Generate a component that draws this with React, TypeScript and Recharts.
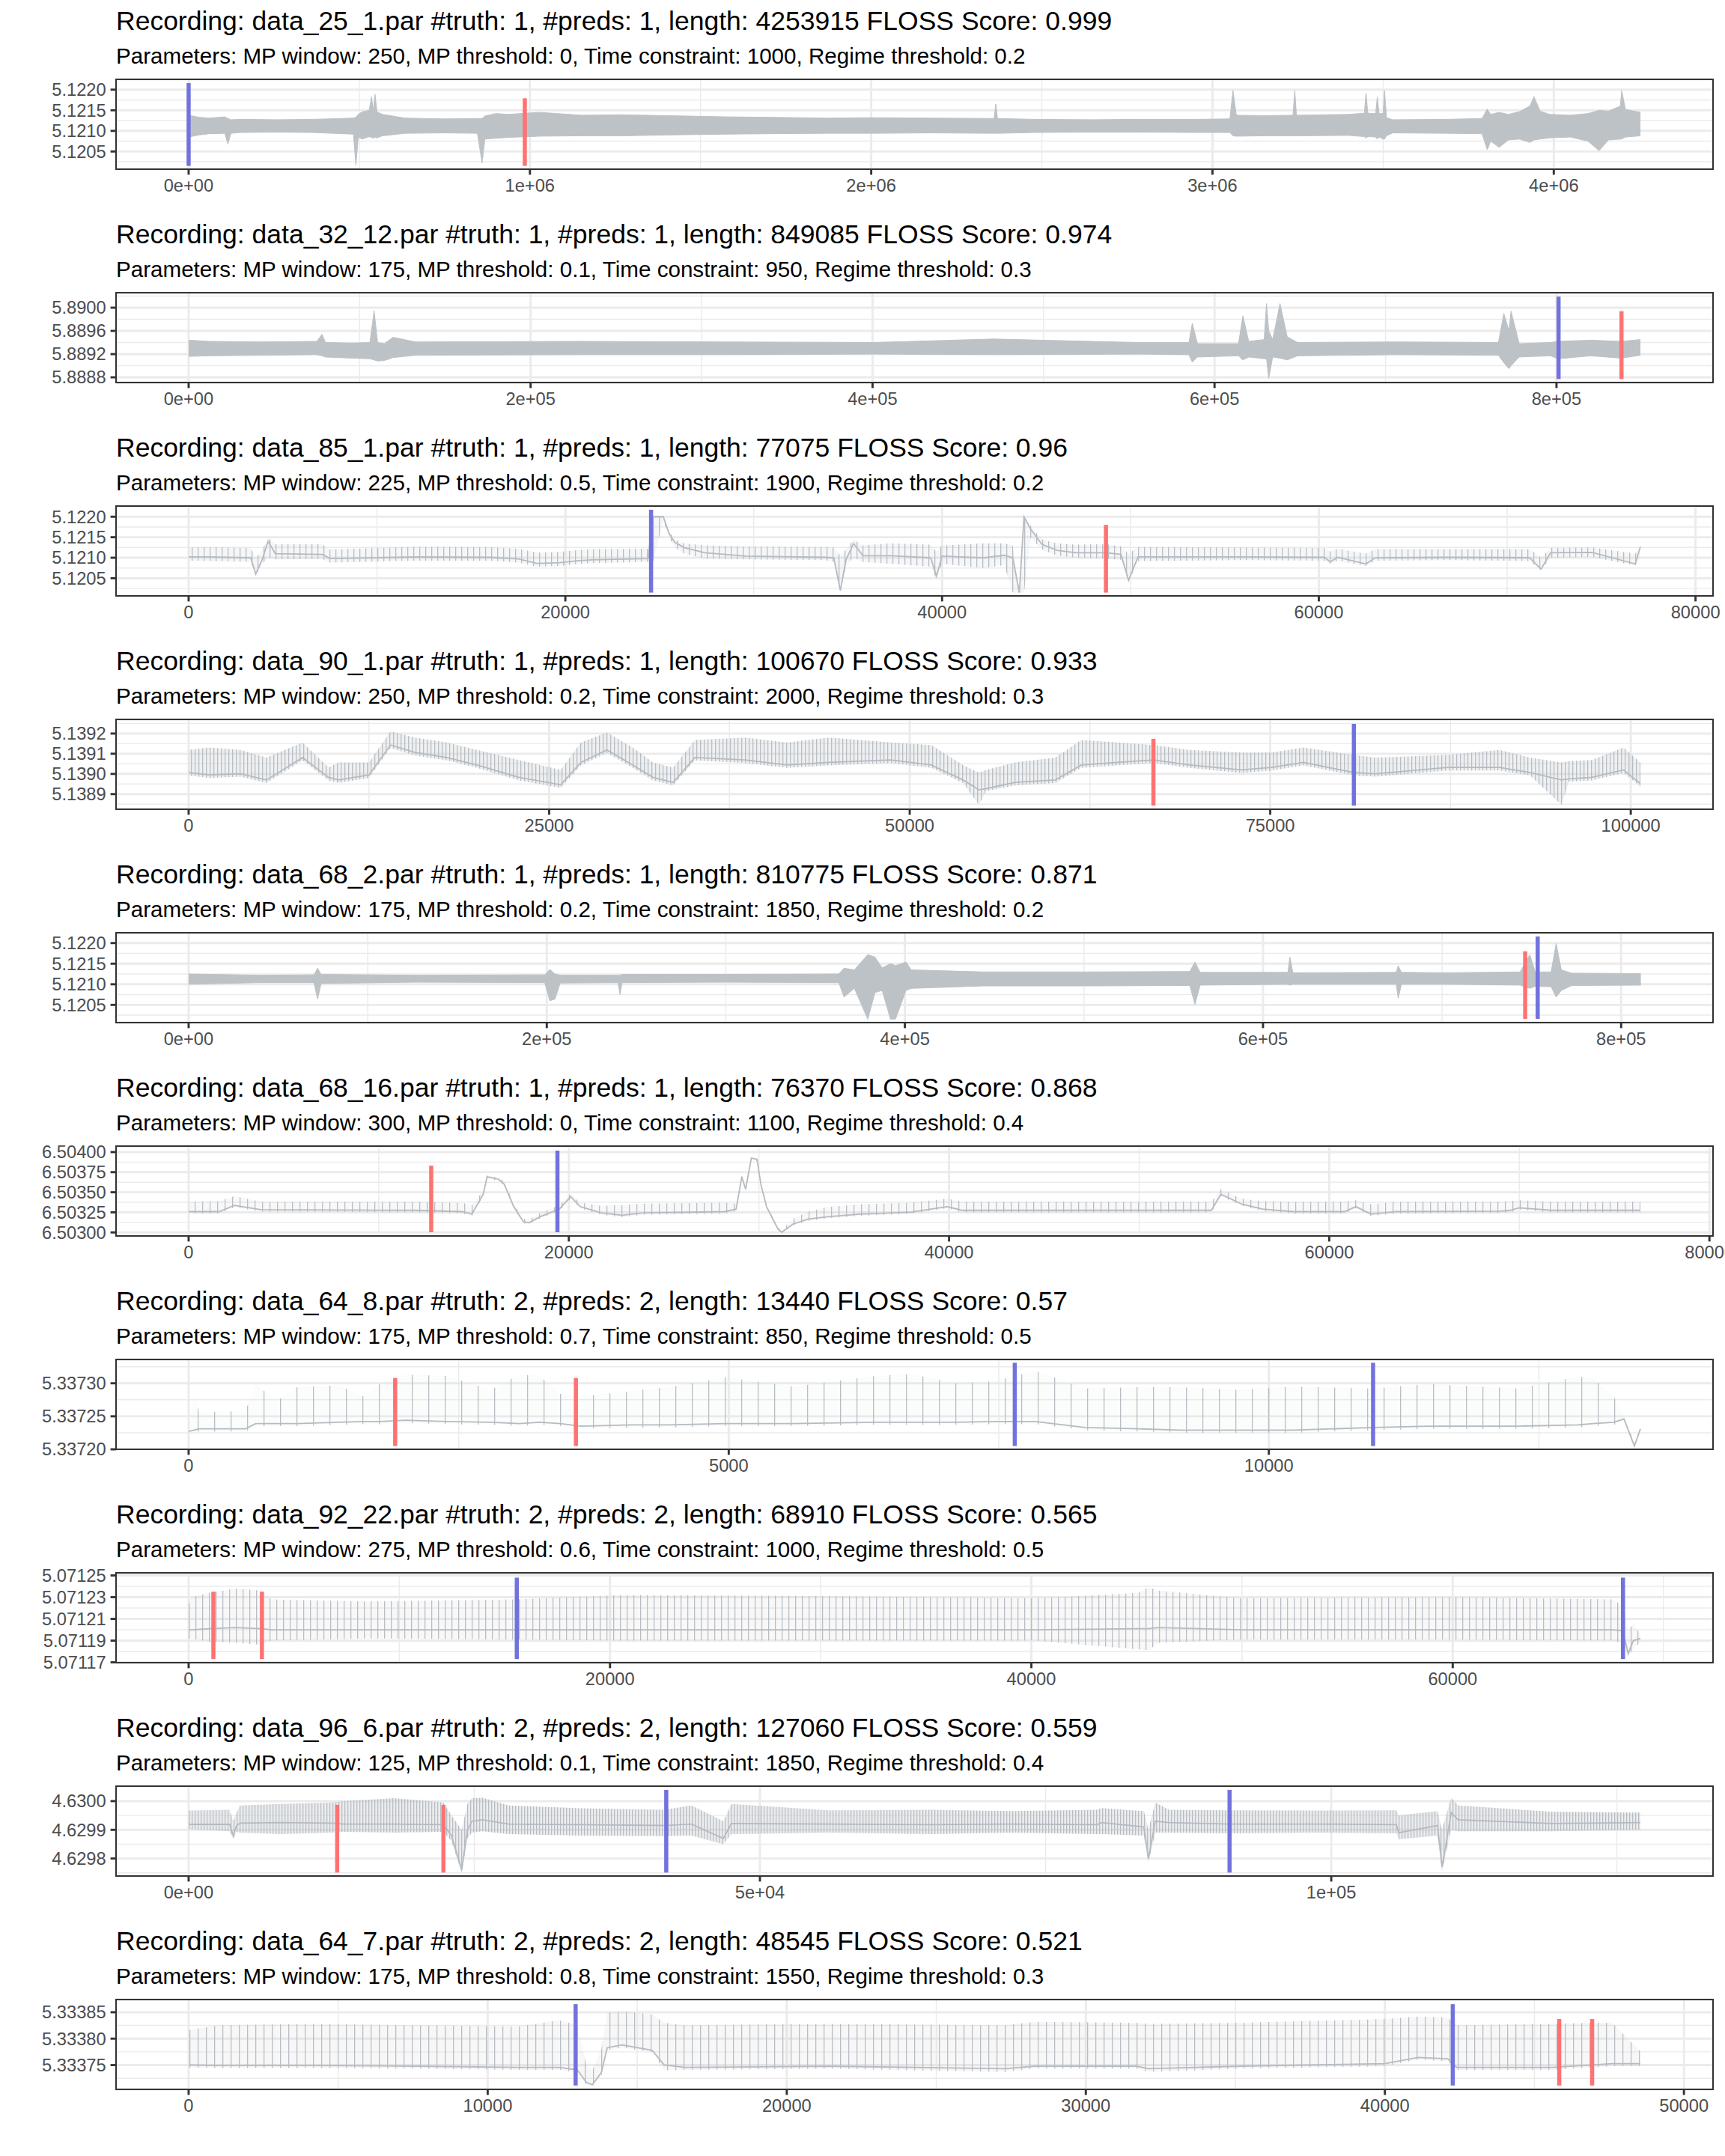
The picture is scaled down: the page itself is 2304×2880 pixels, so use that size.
import React from "react";
import {
  ComposedChart,
  Area,
  Line,
  XAxis,
  YAxis,
  CartesianGrid,
  ReferenceLine,
} from "recharts";

// rows are [x, low, high] for dense recordings and [x, low, base, high] for comb-like ones
type Row = number[];
type Mark = [number, number, number]; // x, y from, y to

// ---------- data_25_1 ----------
const rec25_1: Row[] = [
  [0, 5.12085, 5.12138], [30000, 5.1209, 5.12133], [60000, 5.12093, 5.12131],
  [106000, 5.12094, 5.12134], [115000, 5.12068, 5.1213], [124000, 5.12094, 5.12127],
  [151000, 5.12096, 5.12128], [260000, 5.12097, 5.12127], [363000, 5.12096, 5.12128],
  [483000, 5.12092, 5.12131], [490000, 5.12016, 5.12133], [497000, 5.12085, 5.1214],
  [508000, 5.1208, 5.12146], [529000, 5.12086, 5.1215], [536000, 5.12084, 5.12183],
  [541000, 5.12082, 5.12148], [546000, 5.12085, 5.12189], [552000, 5.12083, 5.12146],
  [568000, 5.12088, 5.1214], [634000, 5.12094, 5.12131], [750000, 5.12095, 5.12129],
  [846000, 5.12094, 5.1213], [860000, 5.12022, 5.1213], [868000, 5.1208, 5.12136],
  [900000, 5.12082, 5.12142], [937000, 5.12084, 5.1214], [1027000, 5.12087, 5.12145],
  [1150000, 5.12088, 5.12138], [1269000, 5.12088, 5.12139], [1400000, 5.1209, 5.12137],
  [1571000, 5.12092, 5.12134], [1700000, 5.12093, 5.12133], [1873000, 5.12094, 5.12131],
  [2000000, 5.12094, 5.12132], [2175000, 5.12095, 5.12131], [2360000, 5.12094, 5.1213],
  [2365000, 5.12094, 5.12165], [2370000, 5.12094, 5.1213], [2477000, 5.12096, 5.12128],
  [2650000, 5.12097, 5.12127], [2779000, 5.12097, 5.12128], [2950000, 5.12096, 5.12128],
  [3051000, 5.12096, 5.12129], [3060000, 5.12088, 5.12198], [3070000, 5.12087, 5.12138],
  [3150000, 5.12088, 5.12137], [3236000, 5.12088, 5.12138], [3241000, 5.12088, 5.12198],
  [3246000, 5.12088, 5.12138], [3400000, 5.12089, 5.1214], [3445000, 5.12086, 5.12143],
  [3450000, 5.12082, 5.12192], [3455000, 5.12086, 5.12143], [3478000, 5.12085, 5.12142],
  [3483000, 5.1208, 5.12183], [3488000, 5.12085, 5.12142], [3500000, 5.1208, 5.12142],
  [3504000, 5.1208, 5.12198], [3510000, 5.12088, 5.12132], [3528000, 5.12095, 5.12127],
  [3686000, 5.12094, 5.12128], [3790000, 5.12093, 5.1213], [3805000, 5.12054, 5.12153],
  [3815000, 5.12075, 5.1214], [3840000, 5.1206, 5.12145], [3867000, 5.12078, 5.1214],
  [3900000, 5.1208, 5.12147], [3930000, 5.12072, 5.1216], [3942000, 5.12078, 5.12183],
  [3960000, 5.1208, 5.12148], [3988000, 5.12083, 5.1214], [4048000, 5.12085, 5.12138],
  [4100000, 5.12075, 5.12142], [4133000, 5.12052, 5.1215], [4160000, 5.12078, 5.12148],
  [4195000, 5.1208, 5.1216], [4199000, 5.1208, 5.12198], [4210000, 5.12085, 5.12152],
  [4254000, 5.12088, 5.12145],
];
const truth25_1: Mark[] = [[0, 5.12015, 5.12216]];
const preds25_1: Mark[] = [[985000, 5.12015, 5.12179]];

// ---------- data_32_12 ----------
const rec32_12: Row[] = [
  [0, 5.88916, 5.88944], [12000, 5.88917, 5.88942], [42000, 5.88918, 5.88941],
  [75000, 5.88919, 5.88942], [78000, 5.88917, 5.88954], [80000, 5.88915, 5.8894],
  [96000, 5.88913, 5.88939], [106000, 5.88912, 5.8894], [108500, 5.8891, 5.88995],
  [110500, 5.88908, 5.8894], [114500, 5.88909, 5.88938], [119500, 5.88914, 5.88949],
  [132700, 5.88918, 5.88941], [229000, 5.88919, 5.88942], [313700, 5.88919, 5.88941],
  [400000, 5.8892, 5.8894], [470600, 5.88919, 5.88946], [555000, 5.8892, 5.8894],
  [585000, 5.88919, 5.8894], [587000, 5.88906, 5.88973], [590000, 5.88915, 5.88938],
  [614000, 5.88917, 5.88938], [616600, 5.8891, 5.88986], [620000, 5.88915, 5.88942],
  [629000, 5.88912, 5.88945], [630400, 5.88912, 5.89007], [631700, 5.88878, 5.8896],
  [634000, 5.88915, 5.88945], [638300, 5.88913, 5.89007], [642500, 5.8891, 5.8895],
  [648500, 5.88917, 5.8894], [705900, 5.88919, 5.88941], [766000, 5.88918, 5.8894],
  [769200, 5.88905, 5.8899], [772200, 5.88895, 5.8896], [773400, 5.889, 5.88994],
  [778200, 5.88915, 5.88938], [796400, 5.88917, 5.8894], [801200, 5.88912, 5.88942],
  [820000, 5.88917, 5.88944], [838000, 5.88913, 5.88942], [849085, 5.88918, 5.88945],
];
const truth32_12: Mark[] = [[801200, 5.88877, 5.89019]];
const preds32_12: Mark[] = [[838000, 5.88877, 5.88994]];

// ---------- data_85_1 ----------
const rec85_1: Row[] = [
  [0, 5.12093, 5.12102, 5.12125], [1100, 5.12092, 5.12102, 5.12126], [3300, 5.1209, 5.121, 5.12124],
  [3560, 5.12057, 5.1206, 5.121], [3900, 5.12085, 5.12095, 5.12118], [4220, 5.121, 5.1214, 5.12149],
  [4600, 5.12096, 5.1211, 5.12133], [7100, 5.12097, 5.12108, 5.12133], [7500, 5.12088, 5.12098, 5.1212],
  [12000, 5.12093, 5.12102, 5.12127], [16000, 5.12093, 5.12101, 5.12126], [17500, 5.12088, 5.12097, 5.12122],
  [18500, 5.12078, 5.12086, 5.12113], [19700, 5.1208, 5.12088, 5.12114], [20500, 5.12084, 5.12092, 5.12118],
  [21400, 5.12087, 5.12095, 5.12121], [24400, 5.1209, 5.12098, 5.12122], [24650, 5.1209, 5.122, 5.122],
  [25200, 5.1219, 5.122, 5.122], [25500, 5.1215, 5.1216, 5.12165], [25800, 5.12125, 5.12138, 5.12145],
  [26300, 5.1211, 5.12125, 5.12135], [27400, 5.12098, 5.12112, 5.1213], [29600, 5.12096, 5.12104, 5.12128],
  [33800, 5.12094, 5.12101, 5.12126], [34250, 5.1209, 5.121, 5.12125], [34600, 5.12015, 5.1202, 5.12105],
  [34900, 5.1208, 5.12095, 5.1212], [35300, 5.121, 5.12135, 5.12145], [35800, 5.1209, 5.12105, 5.1213],
  [37300, 5.12085, 5.12105, 5.12135], [39400, 5.12078, 5.121, 5.12132], [39700, 5.12048, 5.12055, 5.12115],
  [40000, 5.12085, 5.12104, 5.1213], [42200, 5.12075, 5.121, 5.12135], [43300, 5.12082, 5.12106, 5.12135],
  [43750, 5.12015, 5.121, 5.1213], [44100, 5.12015, 5.12015, 5.1202], [44350, 5.12015, 5.122, 5.122],
  [44700, 5.1215, 5.1217, 5.12178], [45300, 5.1212, 5.12133, 5.12145], [46100, 5.12105, 5.12118, 5.12135],
  [47100, 5.121, 5.12112, 5.12132], [48700, 5.12098, 5.12112, 5.12133], [49500, 5.12095, 5.12108, 5.12128],
  [49900, 5.12041, 5.12045, 5.1211], [50400, 5.12092, 5.12102, 5.12126], [55900, 5.12094, 5.12102, 5.12125],
  [60300, 5.12093, 5.12101, 5.12124], [60600, 5.12085, 5.1209, 5.12115], [61000, 5.12093, 5.12101, 5.12122],
  [62500, 5.1208, 5.12085, 5.1211], [63000, 5.12093, 5.121, 5.12121], [66900, 5.12094, 5.12101, 5.12121],
  [71200, 5.12092, 5.121, 5.12121], [71800, 5.12069, 5.12072, 5.121], [72300, 5.121, 5.12112, 5.12124],
  [74500, 5.12102, 5.12113, 5.12125], [76800, 5.12081, 5.12085, 5.1211], [77075, 5.121, 5.12127, 5.12127],
];
const truth85_1: Mark[] = [[24550, 5.12015, 5.12217]];
const preds85_1: Mark[] = [[48700, 5.12015, 5.1218]];

// ---------- data_90_1 ----------
const rec90_1: Row[] = [
  [0, 5.138993, 5.139007, 5.139119], [1400, 5.13898, 5.138995, 5.139131], [3600, 5.138986, 5.139001, 5.139119],
  [5400, 5.138955, 5.13897, 5.139081], [7900, 5.139067, 5.139081, 5.139156], [9700, 5.138968, 5.138983, 5.139032],
  [10400, 5.138955, 5.13897, 5.139057], [12500, 5.13898, 5.138995, 5.139057], [14000, 5.139128, 5.139143, 5.139211],
  [15700, 5.139091, 5.139106, 5.13918], [17900, 5.139067, 5.139081, 5.139156], [20000, 5.13903, 5.139044, 5.139119],
  [22900, 5.138968, 5.138983, 5.139069], [25800, 5.138931, 5.138946, 5.13902], [27200, 5.139042, 5.139057, 5.139156],
  [29000, 5.139104, 5.139119, 5.139205], [30800, 5.13903, 5.139044, 5.139131], [32200, 5.138968, 5.138983, 5.139057],
  [33600, 5.138943, 5.138958, 5.139032], [35100, 5.139067, 5.139081, 5.139168], [38600, 5.139054, 5.139069, 5.13918],
  [41500, 5.13903, 5.139044, 5.139156], [44400, 5.139042, 5.139057, 5.13918], [48700, 5.139054, 5.139069, 5.139156],
  [51500, 5.13903, 5.139044, 5.139143], [53700, 5.138955, 5.13897, 5.139044], [54800, 5.138847, 5.138921, 5.139007],
  [55300, 5.138914, 5.138927, 5.13902], [57300, 5.138943, 5.138958, 5.139057], [60100, 5.138955, 5.13897, 5.139081],
  [61900, 5.13903, 5.139044, 5.139168], [64400, 5.139042, 5.139057, 5.139156], [66900, 5.139054, 5.139069, 5.139143],
  [69400, 5.13903, 5.139044, 5.139119], [73000, 5.139005, 5.13902, 5.139106], [75100, 5.139017, 5.139032, 5.139106],
  [77300, 5.139042, 5.139057, 5.139131], [80800, 5.138993, 5.139007, 5.139094], [82300, 5.138986, 5.139001, 5.139081],
  [87300, 5.139017, 5.139032, 5.139094], [90900, 5.139017, 5.139032, 5.139119], [93000, 5.138993, 5.139007, 5.139081],
  [95200, 5.138847, 5.13897, 5.139057], [95700, 5.138961, 5.138976, 5.139063], [97300, 5.138968, 5.138983, 5.139069],
  [99500, 5.139005, 5.13902, 5.139131], [100670, 5.138937, 5.138952, 5.139057],
];
const truth90_1: Mark[] = [[80800, 5.138843, 5.139248]];
const preds90_1: Mark[] = [[66900, 5.138843, 5.139174]];

// ---------- data_68_2 ----------
const rec68_2: Row[] = [
  [0, 5.121, 5.12125], [40000, 5.12104, 5.12122], [70000, 5.12104, 5.12123],
  [72000, 5.12064, 5.12139], [74000, 5.12102, 5.12124], [126800, 5.12105, 5.12122],
  [198900, 5.12104, 5.12123], [201700, 5.1206, 5.12136], [204600, 5.12064, 5.12125],
  [207500, 5.12103, 5.12122], [239800, 5.12104, 5.12122], [240900, 5.12075, 5.12122],
  [242100, 5.12104, 5.12124], [299700, 5.12105, 5.12124], [363100, 5.12104, 5.12125],
  [366000, 5.12069, 5.12139], [371800, 5.1209, 5.12135], [379300, 5.12015, 5.12172],
  [383300, 5.1208, 5.12166], [387300, 5.12085, 5.1214], [392000, 5.12015, 5.1215],
  [394800, 5.12016, 5.12145], [400600, 5.12085, 5.12154], [403500, 5.1209, 5.12135],
  [443800, 5.12096, 5.1213], [501500, 5.12096, 5.1213], [559100, 5.12097, 5.12131],
  [562000, 5.12051, 5.12154], [564900, 5.12098, 5.12129], [613900, 5.121, 5.12129],
  [615000, 5.12098, 5.12166], [616700, 5.121, 5.12128], [674400, 5.121, 5.12129],
  [675500, 5.12066, 5.12145], [677300, 5.121, 5.12129], [703200, 5.121, 5.12128],
  [743600, 5.12098, 5.1213], [749000, 5.1209, 5.12172], [752000, 5.12095, 5.1213],
  [760900, 5.12094, 5.1213], [763700, 5.12069, 5.12199], [766600, 5.12085, 5.12135],
  [772400, 5.12097, 5.12127], [811000, 5.12098, 5.12126],
];
const truth68_2: Mark[] = [[753400, 5.12016, 5.12216]];
const preds68_2: Mark[] = [[746400, 5.12016, 5.1218]];

// ---------- data_68_16 ----------
const rec68_16: Row[] = [
  [0, 6.503234, 6.503259, 6.503383], [1600, 6.503234, 6.503259, 6.50339], [2400, 6.503312, 6.503337, 6.503451],
  [3800, 6.503259, 6.503284, 6.503383], [11900, 6.50325, 6.503275, 6.503383], [14400, 6.503234, 6.503259, 6.503368],
  [14900, 6.503203, 6.503228, 6.503337], [15500, 6.50345, 6.503476, 6.50352], [15700, 6.50367, 6.503693, 6.50371],
  [16300, 6.50364, 6.503662, 6.50368], [16600, 6.50358, 6.5036, 6.50364], [17100, 6.5033, 6.503321, 6.50336],
  [17600, 6.503115, 6.503135, 6.50317], [17900, 6.5031, 6.50312, 6.50316], [18500, 6.503175, 6.503197, 6.50324],
  [19500, 6.503265, 6.50329, 6.50334], [20100, 6.50342, 6.503445, 6.50348], [20600, 6.5033, 6.503321, 6.50337],
  [21700, 6.50322, 6.503244, 6.50333], [22800, 6.50319, 6.503213, 6.50334], [23900, 6.50322, 6.503244, 6.50336],
  [28200, 6.503234, 6.503259, 6.50337], [28800, 6.503265, 6.50329, 6.50336], [29100, 6.50367, 6.503693, 6.50371],
  [29300, 6.503515, 6.503538, 6.50356], [29600, 6.5039, 6.503925, 6.50393], [29900, 6.503885, 6.503909, 6.50392],
  [30100, 6.50358, 6.5036, 6.50362], [30400, 6.5033, 6.503321, 6.50334], [31000, 6.50302, 6.503043, 6.50306],
  [31200, 6.503002, 6.503002, 6.50303], [31800, 6.503085, 6.503105, 6.50317], [32600, 6.503145, 6.503166, 6.50326],
  [33700, 6.503175, 6.503197, 6.50332], [35300, 6.503205, 6.503228, 6.50335], [38000, 6.50323, 6.503253, 6.50337],
  [39900, 6.5033, 6.503321, 6.50342], [40700, 6.50325, 6.503275, 6.503383], [53800, 6.50325, 6.503275, 6.503383],
  [54300, 6.50345, 6.503476, 6.50354], [55400, 6.50333, 6.503352, 6.50342], [56500, 6.503265, 6.50329, 6.50339],
  [58100, 6.503234, 6.503259, 6.503383], [60800, 6.503234, 6.503259, 6.503383], [61400, 6.5033, 6.503321, 6.5034],
  [62200, 6.503203, 6.503228, 6.50335], [63500, 6.503234, 6.503259, 6.503383], [69000, 6.50324, 6.503265, 6.503383],
  [69500, 6.50325, 6.503275, 6.50339], [70000, 6.503282, 6.503306, 6.5034], [71700, 6.50325, 6.503275, 6.503383],
  [76370, 6.50325, 6.503275, 6.503383],
];
const truth68_16: Mark[] = [[19400, 6.503002, 6.504018]];
const preds68_16: Mark[] = [[12760, 6.503002, 6.503832]];

// ---------- data_64_8 ----------
const rec64_8: Row[] = [
  [0, 5.337223, 5.337227, 5.337231], [48, 5.337225, 5.337229, 5.337284], [96, 5.337227, 5.337231, 5.337256],
  [526, 5.337227, 5.337231, 5.337258], [621, 5.337235, 5.337239, 5.337299], [813, 5.337235, 5.337239, 5.337273],
  [1004, 5.337235, 5.337239, 5.337294], [1386, 5.337237, 5.337241, 5.337297], [1625, 5.337238, 5.337242, 5.33728],
  [1769, 5.337238, 5.337242, 5.337299], [2008, 5.33724, 5.337244, 5.337313], [2390, 5.337238, 5.337242, 5.337311],
  [2800, 5.337237, 5.337241, 5.33729], [3059, 5.337235, 5.337239, 5.337313], [3250, 5.337237, 5.337241, 5.337311],
  [3442, 5.337235, 5.337239, 5.337284], [3633, 5.337231, 5.337235, 5.33728], [4100, 5.337233, 5.337237, 5.337288],
  [4445, 5.337233, 5.337237, 5.337294], [4971, 5.337235, 5.337239, 5.337309], [5600, 5.337235, 5.337239, 5.337295],
  [6357, 5.337237, 5.337241, 5.337311], [6692, 5.337237, 5.337241, 5.337314], [7100, 5.337237, 5.337241, 5.3373],
  [7457, 5.337238, 5.337242, 5.337303], [7839, 5.337238, 5.337242, 5.337319], [8300, 5.337229, 5.337233, 5.337292],
  [8795, 5.337227, 5.337231, 5.337294], [9178, 5.337225, 5.337229, 5.337294], [9700, 5.337225, 5.337229, 5.33729],
  [10229, 5.337225, 5.337229, 5.337295], [10965, 5.337229, 5.337233, 5.337292], [11472, 5.337231, 5.337235, 5.337299],
  [12300, 5.337231, 5.337235, 5.337292], [12858, 5.337233, 5.337237, 5.33731], [13002, 5.337235, 5.337239, 5.337308],
  [13193, 5.337237, 5.337241, 5.33728], [13288, 5.337242, 5.337246, 5.33725], [13384, 5.337205, 5.337205, 5.33721],
  [13440, 5.337227, 5.337231, 5.337233],
];
const truth64_8: Mark[] = [[7648, 5.337205, 5.337331], [10965, 5.337205, 5.337331]];
const preds64_8: Mark[] = [[1912, 5.337205, 5.337308], [3585, 5.337205, 5.337308]];

// ---------- data_92_22 ----------
const rec92_22: Row[] = [
  [0, 5.071192, 5.0712, 5.071222], [98, 5.071192, 5.0712, 5.07123], [980, 5.071189, 5.071201, 5.071234],
  [2204, 5.071188, 5.071202, 5.071238], [3478, 5.071186, 5.071201, 5.071236], [3918, 5.07119, 5.0712, 5.071228],
  [8327, 5.071192, 5.0712, 5.071226], [15576, 5.071191, 5.0712, 5.071228], [20572, 5.07119, 5.0712, 5.071232],
  [30368, 5.07119, 5.0712, 5.071231], [40164, 5.07119, 5.0712, 5.071229], [45062, 5.071182, 5.071201, 5.071234],
  [45551, 5.071181, 5.071201, 5.071239], [46041, 5.071188, 5.071202, 5.071236], [49960, 5.071191, 5.0712, 5.071229],
  [59756, 5.071191, 5.0712, 5.07123], [67592, 5.07119, 5.0712, 5.071228], [68082, 5.071188, 5.071199, 5.071222],
  [68327, 5.071174, 5.071178, 5.0712], [68572, 5.071183, 5.07119, 5.071205], [68910, 5.071188, 5.071192, 5.071196],
];
const truth92_22: Mark[] = [[15576, 5.071173, 5.071248], [68082, 5.071173, 5.071248]];
const preds92_22: Mark[] = [[1175, 5.071173, 5.071235], [3478, 5.071173, 5.071235]];

// ---------- data_96_6 ----------
const rec96_6: Row[] = [
  [0, 4.629902, 4.629919, 4.629967], [3600, 4.629895, 4.629919, 4.62997], [3900, 4.629867, 4.62988, 4.62993],
  [4200, 4.629893, 4.629915, 4.62996], [4500, 4.62989, 4.629923, 4.629985], [8000, 4.629885, 4.629925, 4.62999],
  [12600, 4.62989, 4.629923, 4.629995], [13500, 4.629893, 4.62992, 4.63], [18000, 4.62989, 4.62992, 4.63001],
  [22300, 4.629893, 4.629918, 4.629995], [23000, 4.62986, 4.62988, 4.62995], [23900, 4.629751, 4.62976, 4.6299],
  [24400, 4.62987, 4.6299, 4.62999], [24800, 4.62989, 4.62993, 4.63001], [25700, 4.629895, 4.629935, 4.630012],
  [28000, 4.629885, 4.62992, 4.629985], [34300, 4.62988, 4.629918, 4.629975], [41600, 4.629878, 4.629915, 4.62997],
  [44000, 4.62988, 4.62992, 4.629985], [46800, 4.62985, 4.62987, 4.62993], [47500, 4.629885, 4.629922, 4.62999],
  [56000, 4.62989, 4.62992, 4.629968], [65000, 4.629885, 4.629918, 4.62997], [72000, 4.62989, 4.62992, 4.629965],
  [79500, 4.629885, 4.629918, 4.62997], [79900, 4.629885, 4.629925, 4.629976], [83600, 4.62988, 4.62991, 4.629965],
  [84000, 4.629786, 4.6298, 4.6299], [84600, 4.62989, 4.62993, 4.629995], [85800, 4.62989, 4.629925, 4.62997],
  [91100, 4.629888, 4.62992, 4.629968], [99000, 4.62989, 4.62992, 4.629967], [105700, 4.629888, 4.629918, 4.629968],
  [105900, 4.629867, 4.62989, 4.62995], [109300, 4.62988, 4.629915, 4.629965], [109700, 4.629754, 4.62977, 4.6299],
  [110500, 4.6299, 4.62996, 4.630012], [111100, 4.629895, 4.629935, 4.629985], [119200, 4.629895, 4.629922, 4.629963],
  [127060, 4.6299, 4.629925, 4.62996],
];
const truth96_6: Mark[] = [[41800, 4.629751, 4.630039], [91100, 4.629751, 4.630039]];
const preds96_6: Mark[] = [[13000, 4.629751, 4.629987], [22300, 4.629751, 4.629987]];

// ---------- data_64_7 ----------
const rec64_7: Row[] = [
  [0, 5.3337455, 5.3337502, 5.333816], [1000, 5.3337445, 5.3337492, 5.3338254], [4100, 5.3337445, 5.3337492, 5.333828],
  [7600, 5.3337432, 5.3337479, 5.3338254], [11000, 5.3337408, 5.3337455, 5.333823], [12400, 5.3337408, 5.3337455, 5.3338347],
  [13000, 5.333736, 5.3337408, 5.3338254], [13300, 5.3337127, 5.333717, 5.33375], [13500, 5.3337113, 5.3337127, 5.33374],
  [13800, 5.33373, 5.333736, 5.33378], [14000, 5.333778, 5.3337831, 5.3338488], [14500, 5.333783, 5.333788, 5.3338512],
  [15500, 5.333774, 5.333778, 5.333846], [15900, 5.33374, 5.3337502, 5.33383], [16600, 5.3337408, 5.3337455, 5.3338254],
  [21400, 5.3337432, 5.3337479, 5.333828], [27300, 5.333737, 5.333743, 5.3338254], [28300, 5.3337432, 5.3337479, 5.333832],
  [31700, 5.3337432, 5.3337479, 5.33383], [32100, 5.333737, 5.333743, 5.333828], [35200, 5.3337432, 5.3337479, 5.33383],
  [40000, 5.333748, 5.3337526, 5.3338371], [41100, 5.33376, 5.3337643, 5.3338418], [42100, 5.333757, 5.333762, 5.33384],
  [42400, 5.3337408, 5.3337455, 5.3338254], [45600, 5.3337408, 5.3337455, 5.333828], [46930, 5.3337455, 5.3337502, 5.33383],
  [47600, 5.333748, 5.3337526, 5.33383], [48545, 5.333748, 5.3337526, 5.333776],
];
const truth64_7: Mark[] = [[12940, 5.3337113, 5.3338653], [42270, 5.3337113, 5.3338653]];
const preds64_7: Mark[] = [[45830, 5.3337113, 5.3338371], [46930, 5.3337113, 5.3338371]];

// ---------- axis ticks ----------
const ticksMillion = [0, 1000000, 2000000, 3000000, 4000000];
const labelsMillion = ["0e+00", "1e+06", "2e+06", "3e+06", "4e+06"];
const ticks2e5 = [0, 200000, 400000, 600000, 800000];
const labels2e5 = ["0e+00", "2e+05", "4e+05", "6e+05", "8e+05"];
const ticks20k = [0, 20000, 40000, 60000, 80000];
const labels20k = ["0", "20000", "40000", "60000", "80000"];
const ticks25k = [0, 25000, 50000, 75000, 100000];
const labels25k = ["0", "25000", "50000", "75000", "100000"];
const ticks5k = [0, 5000, 10000];
const labels5k = ["0", "5000", "10000"];
const ticks20kShort = [0, 20000, 40000, 60000];
const labels20kShort = ["0", "20000", "40000", "60000"];
const ticks5e4 = [0, 50000, 100000];
const labels5e4 = ["0e+00", "5e+04", "1e+05"];
const ticks10k = [0, 10000, 20000, 30000, 40000, 50000];
const labels10k = ["0", "10000", "20000", "30000", "40000", "50000"];

const yTicks5121 = [5.1205, 5.121, 5.1215, 5.122];
const yLabels5121 = ["5.1205", "5.1210", "5.1215", "5.1220"];
const yTicks5889 = [5.8888, 5.8892, 5.8896, 5.89];
const yLabels5889 = ["5.8888", "5.8892", "5.8896", "5.8900"];
const yTicks5139 = [5.1389, 5.139, 5.1391, 5.1392];
const yLabels5139 = ["5.1389", "5.1390", "5.1391", "5.1392"];
const yTicks6503 = [6.503, 6.50325, 6.5035, 6.50375, 6.504];
const yLabels6503 = ["6.50300", "6.50325", "6.50350", "6.50375", "6.50400"];
const yTicks53372 = [5.3372, 5.33725, 5.3373];
const yLabels53372 = ["5.33720", "5.33725", "5.33730"];
const yTicks5071 = [5.07117, 5.07119, 5.07121, 5.07123, 5.07125];
const yLabels5071 = ["5.07117", "5.07119", "5.07121", "5.07123", "5.07125"];
const yTicks4629 = [4.6298, 4.6299, 4.63];
const yLabels4629 = ["4.6298", "4.6299", "4.6300"];
const yTicks53337 = [5.33375, 5.3338, 5.33385];
const yLabels53337 = ["5.33375", "5.33380", "5.33385"];

interface PanelCfg {
  title: string;
  subtitle: string;
  length: number;
  rows: Row[];
  gap: number; // 0 = solid band, otherwise spacing of the comb strokes
  bg: number;
  xTicks: number[];
  xLabels: string[];
  yTicks: number[];
  yLabels: string[];
  yDomain: [number, number];
  truth: Mark[];
  preds: Mark[];
}

const panels: PanelCfg[] = [
  {
    title: "Recording: data_25_1.par #truth: 1, #preds: 1, length: 4253915 FLOSS Score: 0.999",
    subtitle: "Parameters: MP window: 250, MP threshold: 0, Time constraint: 1000, Regime threshold: 0.2",
    length: 4253915, rows: rec25_1, gap: 0, bg: 1,
    xTicks: ticksMillion, xLabels: labelsMillion, yTicks: yTicks5121, yLabels: yLabels5121,
    yDomain: [5.12007, 5.12225], truth: truth25_1, preds: preds25_1,
  },
  {
    title: "Recording: data_32_12.par #truth: 1, #preds: 1, length: 849085 FLOSS Score: 0.974",
    subtitle: "Parameters: MP window: 175, MP threshold: 0.1, Time constraint: 950, Regime threshold: 0.3",
    length: 849085, rows: rec32_12, gap: 0, bg: 1,
    xTicks: ticks2e5, xLabels: labels2e5, yTicks: yTicks5889, yLabels: yLabels5889,
    yDomain: [5.88871, 5.890258], truth: truth32_12, preds: preds32_12,
  },
  {
    title: "Recording: data_85_1.par #truth: 1, #preds: 1, length: 77075 FLOSS Score: 0.96",
    subtitle: "Parameters: MP window: 225, MP threshold: 0.5, Time constraint: 1900, Regime threshold: 0.2",
    length: 77075, rows: rec85_1, gap: 8, bg: 0.15,
    xTicks: ticks20k, xLabels: labels20k, yTicks: yTicks5121, yLabels: yLabels5121,
    yDomain: [5.12007, 5.12226], truth: truth85_1, preds: preds85_1,
  },
  {
    title: "Recording: data_90_1.par #truth: 1, #preds: 1, length: 100670 FLOSS Score: 0.933",
    subtitle: "Parameters: MP window: 250, MP threshold: 0.2, Time constraint: 2000, Regime threshold: 0.3",
    length: 100670, rows: rec90_1, gap: 5, bg: 0.25,
    xTicks: ticks25k, xLabels: labels25k, yTicks: yTicks5139, yLabels: yLabels5139,
    yDomain: [5.138825, 5.13927], truth: truth90_1, preds: preds90_1,
  },
  {
    title: "Recording: data_68_2.par #truth: 1, #preds: 1, length: 810775 FLOSS Score: 0.871",
    subtitle: "Parameters: MP window: 175, MP threshold: 0.2, Time constraint: 1850, Regime threshold: 0.2",
    length: 810775, rows: rec68_2, gap: 0, bg: 1,
    xTicks: ticks2e5, xLabels: labels2e5, yTicks: yTicks5121, yLabels: yLabels5121,
    yDomain: [5.12007, 5.12225], truth: truth68_2, preds: preds68_2,
  },
  {
    title: "Recording: data_68_16.par #truth: 1, #preds: 1, length: 76370 FLOSS Score: 0.868",
    subtitle: "Parameters: MP window: 300, MP threshold: 0, Time constraint: 1100, Regime threshold: 0.4",
    length: 76370, rows: rec68_16, gap: 10, bg: 0.1,
    xTicks: ticks20k, xLabels: labels20k, yTicks: yTicks6503, yLabels: yLabels6503,
    yDomain: [6.502956, 6.504074], truth: truth68_16, preds: preds68_16,
  },
  {
    title: "Recording: data_64_8.par #truth: 2, #preds: 2, length: 13440 FLOSS Score: 0.57",
    subtitle: "Parameters: MP window: 175, MP threshold: 0.7, Time constraint: 850, Regime threshold: 0.5",
    length: 13440, rows: rec64_8, gap: 22, bg: 0.05,
    xTicks: ticks5k, xLabels: labels5k, yTicks: yTicks53372, yLabels: yLabels53372,
    yDomain: [5.3372, 5.337336], truth: truth64_8, preds: preds64_8,
  },
  {
    title: "Recording: data_92_22.par #truth: 2, #preds: 2, length: 68910 FLOSS Score: 0.565",
    subtitle: "Parameters: MP window: 275, MP threshold: 0.6, Time constraint: 1000, Regime threshold: 0.5",
    length: 68910, rows: rec92_22, gap: 9, bg: 0.1,
    xTicks: ticks20kShort, xLabels: labels20kShort, yTicks: yTicks5071, yLabels: yLabels5071,
    yDomain: [5.0711697, 5.0712524], truth: truth92_22, preds: preds92_22,
  },
  {
    title: "Recording: data_96_6.par #truth: 2, #preds: 2, length: 127060 FLOSS Score: 0.559",
    subtitle: "Parameters: MP window: 125, MP threshold: 0.1, Time constraint: 1850, Regime threshold: 0.4",
    length: 127060, rows: rec96_6, gap: 4, bg: 0.3,
    xTicks: ticks5e4, xLabels: labels5e4, yTicks: yTicks4629, yLabels: yLabels4629,
    yDomain: [4.629739, 4.630052], truth: truth96_6, preds: preds96_6,
  },
  {
    title: "Recording: data_64_7.par #truth: 2, #preds: 2, length: 48545 FLOSS Score: 0.521",
    subtitle: "Parameters: MP window: 175, MP threshold: 0.8, Time constraint: 1550, Regime threshold: 0.3",
    length: 48545, rows: rec64_7, gap: 11, bg: 0.12,
    xTicks: ticks10k, xLabels: labels10k, yTicks: yTicks53337, yLabels: yLabels53337,
    yDomain: [5.333704, 5.333874], truth: truth64_7, preds: preds64_7,
  },
];

const FONT = '"Liberation Sans", Arial, Helvetica, sans-serif';
const W = 2304;
const PANEL_H = 285;
const PLOT_TOP = 106;
const PLOT_BOTTOM = 226;
const PLOT_LEFT = 155;
const PLOT_RIGHT = 2288;
const GRID = "#EBEBEB";
const SIGNAL = "#BDC2C7";
const TRUTH = "#7272DE";
const PRED = "#FF7272";

// minor breaks halfway between the major ones, kept inside the panel
function minors(ticks: number[], domain: [number, number]) {
  const step = ticks[1] - ticks[0];
  const out: number[] = [ticks[0] - step / 2];
  ticks.forEach((t) => out.push(t + step / 2));
  return out.filter((v) => v > domain[0] && v < domain[1]);
}

function Panel({ p, idx }: { p: PanelCfg; idx: number }) {
  const data = p.rows.map((r) =>
    r.length === 4
      ? { x: r[0], band: [r[1], r[3]], mid: r[2] }
      : { x: r[0], band: [r[1], r[2]] }
  );
  const xDomain: [number, number] = [-0.05 * p.length, 1.05 * p.length];
  const minorX = minors(p.xTicks, xDomain);
  const minorY = minors(p.yTicks, p.yDomain);
  const comb = p.gap > 0;
  const patId = "comb" + idx;

  return (
    <div style={{ position: "relative", width: W, height: PANEL_H }}>
      <ComposedChart
        width={W}
        height={PANEL_H}
        data={data}
        margin={{ top: PLOT_TOP, right: W - PLOT_RIGHT, bottom: 0, left: 0 }}
      >
        <defs>
          <pattern id={patId} width={p.gap || 4} height={8} patternUnits="userSpaceOnUse">
            <rect x={0} y={0} width={p.gap || 4} height={8} fill={SIGNAL} fillOpacity={p.bg} />
            <rect x={0} y={0} width={1.3} height={8} fill="#B9BEC4" />
          </pattern>
        </defs>
        <CartesianGrid
          horizontalValues={minorY}
          verticalValues={minorX}
          stroke={GRID}
          strokeWidth={1.45}
        />
        <CartesianGrid stroke={GRID} strokeWidth={2.9} />
        <XAxis
          dataKey="x"
          type="number"
          domain={xDomain}
          allowDataOverflow
          ticks={p.xTicks}
          interval={0}
          tickFormatter={(v: number, i: number) => p.xLabels[i]}
          height={PANEL_H - PLOT_BOTTOM}
          tickSize={7.4}
          tickMargin={5.9}
          axisLine={false}
          tickLine={{ stroke: "#333333", strokeWidth: 2.9 }}
          tick={{ fill: "#4D4D4D", fontSize: 23.7, fontFamily: FONT }}
        />
        <YAxis
          type="number"
          domain={p.yDomain}
          allowDataOverflow
          ticks={p.yTicks}
          interval={0}
          tickFormatter={(v: number, i: number) => p.yLabels[i]}
          width={PLOT_LEFT}
          tickSize={7.4}
          tickMargin={5.9}
          axisLine={false}
          tickLine={{ stroke: "#333333", strokeWidth: 2.9 }}
          tick={{ fill: "#4D4D4D", fontSize: 23.7, fontFamily: FONT }}
        />
        <Area
          dataKey="band"
          type="linear"
          stroke={comb ? "none" : SIGNAL}
          strokeWidth={1}
          fill={comb ? `url(#${patId})` : SIGNAL}
          fillOpacity={1}
          dot={false}
          activeDot={false}
          isAnimationActive={false}
        />
        {comb && (
          <Line
            dataKey="mid"
            type="linear"
            stroke="#B5BBC1"
            strokeWidth={1.8}
            dot={false}
            activeDot={false}
            isAnimationActive={false}
          />
        )}
        {p.preds.map((m, i) => (
          <ReferenceLine
            key={"p" + i}
            segment={[{ x: m[0], y: m[1] }, { x: m[0], y: m[2] }]}
            stroke={PRED}
            strokeWidth={5.5}
            ifOverflow="visible"
          />
        ))}
        {p.truth.map((m, i) => (
          <ReferenceLine
            key={"t" + i}
            segment={[{ x: m[0], y: m[1] }, { x: m[0], y: m[2] }]}
            stroke={TRUTH}
            strokeWidth={5.5}
            ifOverflow="visible"
          />
        ))}
      </ComposedChart>
      <div
        style={{
          position: "absolute",
          left: PLOT_LEFT,
          top: 10.75,
          fontSize: 35.5,
          lineHeight: "35.5px",
          whiteSpace: "nowrap",
          color: "#000",
        }}
      >
        {p.title}
      </div>
      <div
        style={{
          position: "absolute",
          left: PLOT_LEFT,
          top: 59.6,
          fontSize: 29.6,
          lineHeight: "29.6px",
          whiteSpace: "nowrap",
          color: "#000",
        }}
      >
        {p.subtitle}
      </div>
      <div
        style={{
          position: "absolute",
          left: PLOT_LEFT - 1.45,
          top: PLOT_TOP - 1.45,
          width: PLOT_RIGHT - PLOT_LEFT + 2.9,
          height: PLOT_BOTTOM - PLOT_TOP + 2.9,
          border: "2.9px solid #333333",
          boxSizing: "border-box",
          pointerEvents: "none",
        }}
      />
    </div>
  );
}

export default function App() {
  return (
    <div
      style={{
        position: "absolute",
        left: 0,
        top: 0,
        width: W,
        height: 2880,
        background: "#fff",
        fontFamily: FONT,
        overflow: "hidden",
      }}
    >
      {panels.map((p, i) => (
        <Panel key={p.title} p={p} idx={i} />
      ))}
    </div>
  );
}
